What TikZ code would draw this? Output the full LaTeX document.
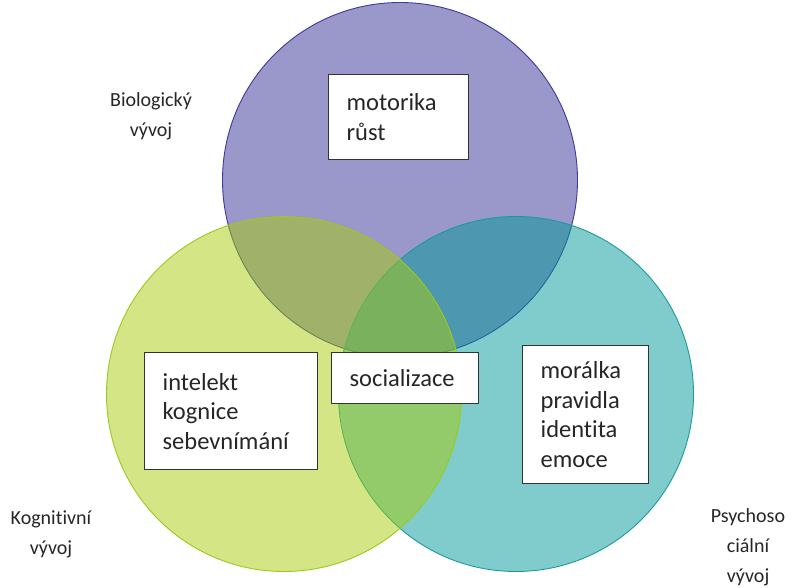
\documentclass[tikz,border=0pt]{standalone}
\usepackage{fontspec}
\setmainfont{Carlito}[Ligatures=NoCommon]
\usetikzlibrary{positioning}
\definecolor{bioFill}{HTML}{352F95}
\definecolor{bioLine}{HTML}{3C3A9C}
\definecolor{cogFill}{HTML}{A7CB0B}
\definecolor{cogLine}{HTML}{9ACA1C}
\definecolor{psyFill}{HTML}{019999}
\definecolor{psyLine}{HTML}{1A9C9C}
\definecolor{boxLine}{HTML}{333333}
\definecolor{labelText}{HTML}{262626}

\begin{document}
\begin{tikzpicture}[x=1pt, y=-1pt,
    circle style/.style={circle, draw, line width=0.9pt, fill opacity=0.5, minimum size=355pt, inner sep=0pt},
    box style/.style={draw=boxLine, line width=1.3pt, fill=white, align=left, anchor=north west, inner xsep=18pt, inner ysep=0pt, text=labelText, font=\fontsize{24.5}{29.5}\selectfont},
    label style/.style={align=center, text=labelText, font=\fontsize{20}{30}\selectfont}
]
\useasboundingbox (0,0) rectangle (792,588);
% three circles
\node[circle style, draw=bioLine, fill=bioFill] (bio) at (400,180) {};
\node[circle style, draw=psyLine, fill=psyFill] (psy) at (516,394) {};
\node[circle style, draw=cogLine, fill=cogFill] (cog) at (284,394) {};

% boxes
\node[box style, text width=104pt, minimum height=85pt] (growth) at (328,74) {motorika\\růst};
\node[box style, text width=111pt, minimum height=51pt] (social) at (331,352) {socializace};
\node[box style, text width=137pt, minimum height=117pt] (mind) at (144,352) {intelekt\\kognice\\sebevnímání};
\node[box style, text width=90pt, minimum height=138pt] (moral) at (522,345) {morálka\\pravidla\\identita\\emoce};

% labels
\node[label style] (biolabel) at (151,116) {Biologický\\vývoj};
\node[label style] (coglabel) at (51,534) {Kognitivní\\vývoj};
\node[label style] (psylabel) at (748,547) {Psychoso\\ciální\\vývoj};
\end{tikzpicture}
\end{document}
